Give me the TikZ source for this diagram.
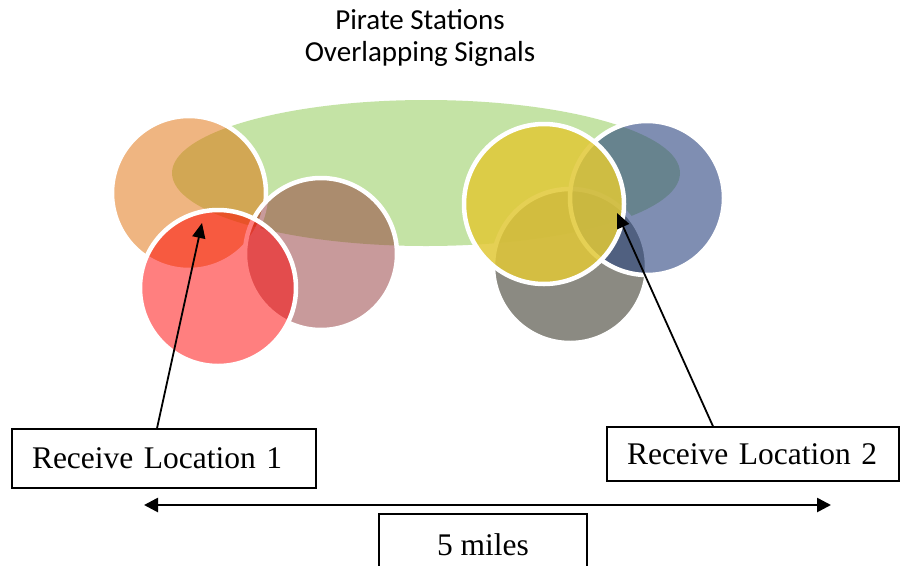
\documentclass[tikz,border=0pt]{standalone}
\usepackage{fontspec}
\setmainfont{Liberation Serif}
\newfontfamily\titlefont{Carlito}
\usetikzlibrary{shapes.geometric,arrows.meta}

\definecolor{bandgreen}{RGB}{139,201,77}
\definecolor{sigorange}{RGB}{225,109,5}
\definecolor{sigbrown}{RGB}{147,55,57}
\definecolor{sigred}{RGB}{255,0,0}
\definecolor{siggray}{RGB}{111,109,99}
\definecolor{sigblue}{RGB}{42,68,127}
\definecolor{sigyellow}{RGB}{225,200,55}

\begin{document}
\begin{tikzpicture}[x=1pt,y=-1pt,
  signal/.style={circle, inner sep=0pt, minimum size=#1, draw=white,
                 line width=4.5pt},
  band/.style={ellipse, inner sep=0pt, fill=bandgreen, fill opacity=0.5},
  labelbox/.style={draw=black, line width=1.4pt, rectangle, inner xsep=20pt,
                   inner ysep=0pt, align=left,
                   font=\fontsize{31.5}{34}\selectfont},
  ptr/.style={-{Triangle[length=15pt,width=13pt]}, line width=1.8pt},
  span/.style={{Triangle[length=14pt,width=14pt]}-{Triangle[length=14pt,width=14pt]},
               line width=2.6pt}]
\clip (0,0) rectangle (901,565);
\fill[white] (0,0) rectangle (901,565);

% title
\node[font=\titlefont\fontsize{29}{32}\selectfont, align=center]
  (title) at (420,38) {Pirate Stations\\Overlapping Signals};

% common coverage band
\node[band, minimum width=508pt, minimum height=146pt] (area) at (426,173) {};

% left group of transmitters
\node[signal=154pt, fill=sigorange, fill opacity=0.5] (s1) at (189,193) {};
\node[signal=152pt, fill=sigbrown, fill opacity=0.5] (s2) at (321,254) {};
\node[signal=156pt, fill=sigred, fill opacity=0.5] (s3) at (218,288) {};

% right group of transmitters
\node[signal=154pt, fill=siggray, fill opacity=0.8] (s4) at (570,266) {};
\node[signal=154pt, fill=sigblue, fill opacity=0.6] (s5) at (647,198) {};
\node[signal=160pt, fill=sigyellow, fill opacity=0.85] (s6) at (544,204) {};

% receive locations
\node[labelbox, text width=264pt, minimum height=59pt] (rx1) at (164,458.5)
  {Receive Location 1};
\node[labelbox, text width=252pt, minimum height=54pt] (rx2) at (753,454)
  {Receive Location 2};
\coordinate (p1) at (202,223);
\coordinate (p2) at (617,213);
\draw[ptr] ([xshift=-7pt]rx1.north) -- (p1);
\draw[ptr] ([xshift=-40pt]rx2.north) -- (p2);

% distance scale
\coordinate (wl) at (144,505);
\coordinate (wr) at (831,505);
\draw[span] (wl) -- (wr);
\node[labelbox, align=center, inner xsep=0pt, minimum width=208pt,
      minimum height=62pt] (dist) at (483,545) {5 miles};
\end{tikzpicture}
\end{document}
